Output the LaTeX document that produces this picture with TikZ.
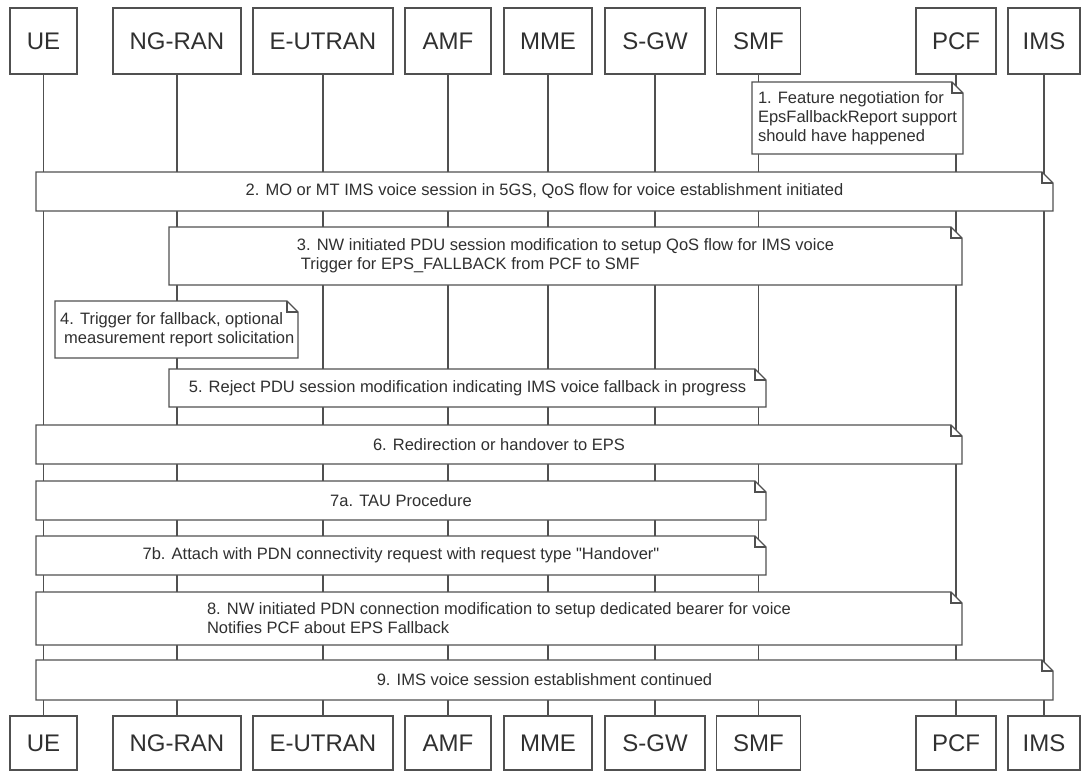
\documentclass[tikz,border=0pt]{standalone}
\usepackage{fontspec}
\setmainfont{Liberation Sans}[Ligatures=TeXOff]
\definecolor{linec}{HTML}{505050}
\definecolor{textc}{HTML}{303030}
\tikzset{
  actor/.style={draw=linec, line width=1.2pt, fill=white, inner sep=0pt,
    font=\fontsize{24}{28}\selectfont, text=textc},
  life/.style={draw=linec, line width=1.2pt},
  noteline/.style={draw=linec, line width=1.2pt, line join=miter, fill=white},
  notetext/.style={font=\fontsize{16.5}{19}\selectfont, text=textc, inner sep=0pt, align=left}
}
% note outline: x1 y1 x2 y2 (y grows downward)
\newcommand\sdnote[4]{%
  \draw[noteline] (#1,#2) -- ({#3-11},#2) -- (#3,{#2+11}) -- (#3,#4) -- (#1,#4) -- cycle;
  \draw[noteline, fill=none] ({#3-11},#2) -- ({#3-11},{#2+11}) -- (#3,{#2+11});
}
\begin{document}
\begin{tikzpicture}[x=1pt,y=-1pt]
\useasboundingbox[fill=white] (0,0) rectangle (1081,772);

% actors (top)
\node[actor, minimum width=67pt,  minimum height=66pt] (UEt)  at (43.5,41) {UE};
\node[actor, minimum width=128pt, minimum height=66pt] (NGt)  at (177,41)  {NG-RAN};
\node[actor, minimum width=140pt, minimum height=66pt] (EUt)  at (323,41)  {E-UTRAN};
\node[actor, minimum width=86pt,  minimum height=66pt] (AMFt) at (448,41)  {AMF};
\node[actor, minimum width=88pt,  minimum height=66pt] (MMEt) at (548,41)  {MME};
\node[actor, minimum width=100pt, minimum height=66pt] (SGWt) at (655,41)  {S-GW};
\node[actor, minimum width=84pt,  minimum height=66pt] (SMFt) at (758.5,41) {SMF};
\node[actor, minimum width=80pt,  minimum height=66pt] (PCFt) at (956,41)  {PCF};
\node[actor, minimum width=72pt,  minimum height=66pt] (IMSt) at (1044,41) {IMS};

% actors (bottom)
\node[actor, minimum width=67pt,  minimum height=54pt] (UEb)  at (43.5,743) {UE};
\node[actor, minimum width=128pt, minimum height=54pt] (NGb)  at (177,743)  {NG-RAN};
\node[actor, minimum width=140pt, minimum height=54pt] (EUb)  at (323,743)  {E-UTRAN};
\node[actor, minimum width=86pt,  minimum height=54pt] (AMFb) at (448,743)  {AMF};
\node[actor, minimum width=88pt,  minimum height=54pt] (MMEb) at (548,743)  {MME};
\node[actor, minimum width=100pt, minimum height=54pt] (SGWb) at (655,743)  {S-GW};
\node[actor, minimum width=84pt,  minimum height=54pt] (SMFb) at (758.5,743) {SMF};
\node[actor, minimum width=80pt,  minimum height=54pt] (PCFb) at (956,743)  {PCF};
\node[actor, minimum width=72pt,  minimum height=54pt] (IMSb) at (1044,743) {IMS};

% lifelines
\foreach \a in {UE,NG,EU,AMF,MME,SGW,SMF,PCF,IMS}
  \draw[life] (\a t.south) -- (\a b.north);

% 1
\sdnote{752}{82}{963}{154}
\node[notetext] (n1) at (857.5,118) {1. Feature negotiation for\\EpsFallbackReport support\\should have happened};
% 2
\sdnote{36}{172}{1053}{211}
\node[notetext] (n2) at (544.5,191.5) {2. MO or MT IMS voice session in 5GS, QoS flow for voice establishment initiated};
% 3
\sdnote{169}{227}{962}{285}
\node[notetext] (n3) at (565.5,256) {3. NW initiated PDU session modification to setup QoS flow for IMS voice\\\hspace*{4pt}Trigger for EPS\_FALLBACK from PCF to SMF};
% 4
\sdnote{55}{301}{298}{358}
\node[notetext, anchor=west] (n4) at (60,329.5) {4. Trigger for fallback, optional\\\hspace*{4pt}measurement report solicitation};
% 5
\sdnote{169}{369}{766}{407}
\node[notetext] (n5) at (467.5,388) {5. Reject PDU session modification indicating IMS voice fallback in progress};
% 6
\sdnote{36}{425}{962}{464}
\node[notetext] (n6) at (499,444.5) {6. Redirection or handover to EPS};
% 7a
\sdnote{36}{481}{766}{520}
\node[notetext] (n7a) at (401,500.5) {7a. TAU Procedure};
% 7b
\sdnote{36}{536}{766}{575}
\node[notetext] (n7b) at (401,555.5) {7b. Attach with PDN connectivity request with request type "Handover"};
% 8
\sdnote{36}{592}{962}{645}
\node[notetext] (n8) at (499,618.5) {8. NW initiated PDN connection modification to setup dedicated bearer for voice\\Notifies PCF about EPS Fallback};
% 9
\sdnote{36}{660}{1053}{700}
\node[notetext] (n9) at (544.5,680) {9. IMS voice session establishment continued};
\end{tikzpicture}
\end{document}
